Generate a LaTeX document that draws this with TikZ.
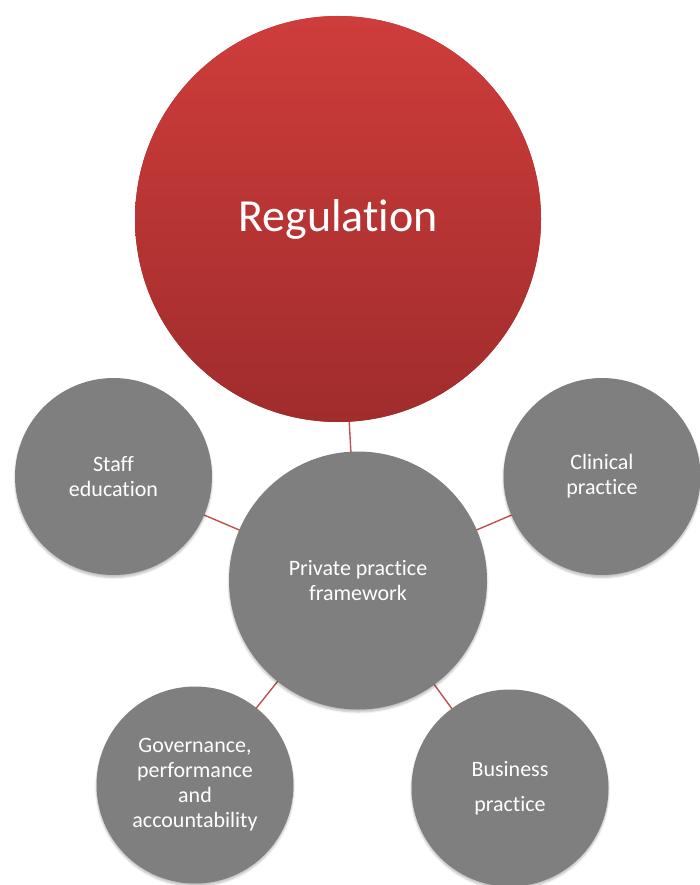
\documentclass[tikz,border=0pt]{standalone}
\usepackage{fontspec}
\setmainfont{Carlito}[Ligatures={NoCommon,NoRequired,NoContextual},Contextuals={NoAlternate},RawFeature={-dlig}]
\usetikzlibrary{shadows.blur,backgrounds}
\definecolor{regtop}{HTML}{CE3D3B}
\definecolor{regbot}{HTML}{A02C2C}
\definecolor{regmid}{HTML}{B93535}
\definecolor{bubblegray}{HTML}{7F7F7F}
\definecolor{linkred}{HTML}{C0504D}
\begin{document}
\begin{tikzpicture}[x=1pt,y=-1pt,
  softshadow/.style={blur shadow={shadow xshift=0pt,shadow yshift=-2.5pt,shadow blur radius=2pt,shadow blur steps=5,shadow opacity=25}},
  bubble/.style={circle, fill=bubblegray, text=white, inner sep=0pt, align=center,
    font=\fontsize{22}{25}\selectfont, minimum size=197pt, softshadow},
  hub/.style={bubble, minimum size=258pt},
  regbubble/.style={circle, preaction={fill=regmid}, top color=regtop, bottom color=regbot, text=white, inner sep=0pt,
    font=\fontsize{46}{54}\selectfont, minimum size=406pt},
  link/.style={draw=linkred, line width=1.4pt}]
\useasboundingbox (0,0) rectangle (699,885);
\node[regbubble] (reg) at (338,219) {Regulation};
\node[hub] (hub) at (358,580.5) {Private practice\\framework};
\node[bubble] (staff) at (113.5,476.5) {Staff\\education};
\node[bubble] (clin) at (602,476.5) {Clinical\\practice};
\node[bubble] (gov) at (195,785) {Governance,\\performance\\and\\accountability};
\node[bubble] (bus) at (510,788) {Business\\[10pt]practice};
\begin{scope}[on background layer]
\draw[link] (reg.center) -- (hub.center);
\draw[link] (staff.center) -- (hub.center);
\draw[link] (clin.center) -- (hub.center);
\draw[link] (gov.center) -- (hub.center);
\draw[link] (bus.center) -- (hub.center);
\end{scope}
\end{tikzpicture}
\end{document}
